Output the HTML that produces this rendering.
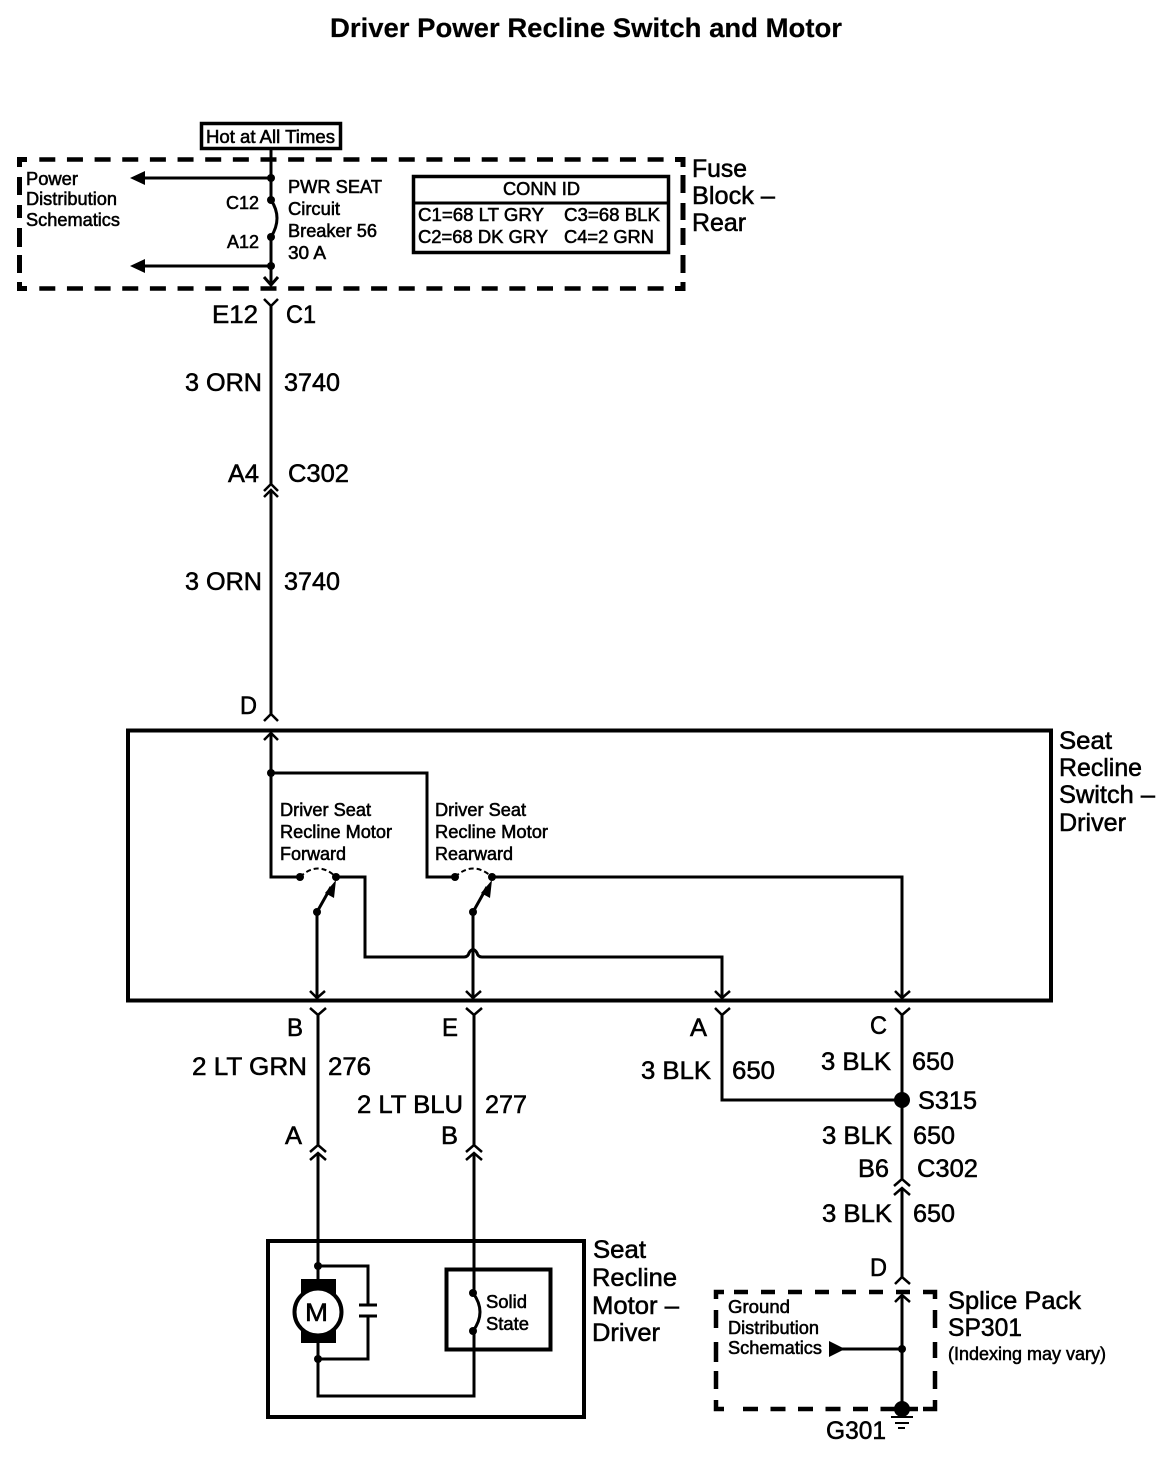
<!DOCTYPE html>
<html><head><meta charset="utf-8"><style>
html,body{margin:0;padding:0;background:#fff}
svg{display:block}
text{font-family:"Liberation Sans",sans-serif;fill:#000;stroke:#000;stroke-width:.55}
.l{font-size:25px}.s{font-size:18px}
.w{fill:none;stroke:#000;stroke-width:3}
.c{fill:none;stroke:#000;stroke-width:2.5}
</style></head><body>
<svg xmlns="http://www.w3.org/2000/svg" width="1172" height="1472" viewBox="0 0 1172 1472">
<rect width="1172" height="1472" fill="#fff"/>
<text x="330" y="37" style="font-size:27px;font-weight:bold;stroke-width:.2" textLength="512" lengthAdjust="spacingAndGlyphs">Driver Power Recline Switch and Motor</text>

<!-- top -->
<rect x="201.500" y="123.500" width="139" height="25" fill="none" stroke="#000" stroke-width="3.500"/>
<text x="206" y="143" class="s" textLength="129" lengthAdjust="spacingAndGlyphs">Hot at All Times</text>
<path d="M39.300 159.500H664M39.300 288.500H664" fill="none" stroke="#000" stroke-width="4.500" stroke-dasharray="16 11.650"/>
<path d="M27 159.500H19.500V167M675 159.500H683V167M19.500 282V288.500H27M683 282V288.500H675M19.500 177V195M19.500 205V218M19.500 228V247M19.500 255V273M683 175V193M683 203V220M683 228V245M683 255V273" fill="none" stroke="#000" stroke-width="5"/>
<path class="w" d="M271 149V200M271 237V285M264 277L271 285L278 277M271 178H143M271 266H143"/>
<path class="w" d="M271 200Q283 218 271 237"/>
<path d="M130 178L145 171V185ZM130 266L145 259V273Z"/>
<circle cx="271" cy="178" r="4"/><circle cx="271" cy="200" r="4"/><circle cx="271" cy="237" r="4"/><circle cx="271" cy="266" r="4"/>
<text x="26" y="185" class="s" textLength="52" lengthAdjust="spacingAndGlyphs">Power</text>
<text x="26" y="205" class="s" textLength="91" lengthAdjust="spacingAndGlyphs">Distribution</text>
<text x="26" y="226" class="s" textLength="94" lengthAdjust="spacingAndGlyphs">Schematics</text>
<text x="226" y="209" class="s" textLength="33" lengthAdjust="spacingAndGlyphs">C12</text>
<text x="227" y="248" class="s" textLength="32" lengthAdjust="spacingAndGlyphs">A12</text>
<text x="288" y="193" class="s" textLength="94" lengthAdjust="spacingAndGlyphs">PWR SEAT</text>
<text x="288" y="215" class="s" textLength="52" lengthAdjust="spacingAndGlyphs">Circuit</text>
<text x="288" y="237" class="s" textLength="89" lengthAdjust="spacingAndGlyphs">Breaker 56</text>
<text x="288" y="259" class="s" textLength="38" lengthAdjust="spacingAndGlyphs">30 A</text>
<rect x="413.500" y="176.500" width="255" height="76" fill="none" stroke="#000" stroke-width="3.500"/>
<path class="w" d="M413 203H668"/>
<text x="503" y="195" class="s" textLength="77" lengthAdjust="spacingAndGlyphs">CONN ID</text>
<text x="418" y="221" class="s" textLength="126" lengthAdjust="spacingAndGlyphs">C1=68 LT GRY</text>
<text x="564" y="221" class="s" textLength="96" lengthAdjust="spacingAndGlyphs">C3=68 BLK</text>
<text x="418" y="243" class="s" textLength="130" lengthAdjust="spacingAndGlyphs">C2=68 DK GRY</text>
<text x="564" y="243" class="s" textLength="90" lengthAdjust="spacingAndGlyphs">C4=2 GRN</text>
<text x="692" y="177" class="l" textLength="55" lengthAdjust="spacingAndGlyphs">Fuse</text>
<text x="692" y="204" class="l" textLength="83" lengthAdjust="spacingAndGlyphs">Block –</text>
<text x="692" y="231" class="l" textLength="54" lengthAdjust="spacingAndGlyphs">Rear</text>

<!-- main wire -->
<path class="c" d="M264 299L271 306L278 299"/>
<path class="w" d="M271 306V484M271 490V714M271 733V877H300"/>
<path class="c" d="M264 491L271 484L278 491M264 497L271 490L278 497M264 721L271 714L278 721M264 740L271 733L278 740"/>
<text x="212" y="323" class="l" textLength="46" lengthAdjust="spacingAndGlyphs">E12</text>
<text x="286" y="323" class="l" textLength="30" lengthAdjust="spacingAndGlyphs">C1</text>
<text x="185" y="391" class="l" textLength="77" lengthAdjust="spacingAndGlyphs">3 ORN</text>
<text x="284" y="391" class="l" textLength="56" lengthAdjust="spacingAndGlyphs">3740</text>
<text x="228" y="482" class="l" textLength="31" lengthAdjust="spacingAndGlyphs">A4</text>
<text x="288" y="482" class="l" textLength="61" lengthAdjust="spacingAndGlyphs">C302</text>
<text x="185" y="590" class="l" textLength="77" lengthAdjust="spacingAndGlyphs">3 ORN</text>
<text x="284" y="590" class="l" textLength="56" lengthAdjust="spacingAndGlyphs">3740</text>
<text x="240" y="714" class="l" textLength="17" lengthAdjust="spacingAndGlyphs">D</text>

<!-- switch box -->
<rect x="128" y="730.500" width="923" height="270" fill="none" stroke="#000" stroke-width="4"/>
<circle cx="271" cy="773" r="4"/>
<path class="w" d="M271 773H427V877H455M336 877H365V957H464Q468 957 469 953Q473 946 477 953Q478 957 482 957H722V997M492 877H902V997"/>
<path class="w" d="M317 912V997M473 912V997"/>
<path class="w" d="M317 912L331 887M473 912L487 887"/>
<path d="M336 880L325 893L334 898ZM492 880L481 893L490 898Z"/>
<circle cx="300" cy="877" r="4"/><circle cx="336" cy="877" r="4"/><circle cx="317" cy="912" r="4"/>
<circle cx="455" cy="877" r="4"/><circle cx="492" cy="877" r="4"/><circle cx="473" cy="912" r="4"/>
<path d="M300 877Q318 860 336 877M455 877Q473 860 492 877" fill="none" stroke="#000" stroke-width="2" stroke-dasharray="5 3"/>
<path class="c" d="M310 991L317 998L325 991M466 991L473 998L481 991M715 991L722 998L730 991M895 991L902 998L910 991"/>
<text x="280" y="816" class="s" textLength="91" lengthAdjust="spacingAndGlyphs">Driver Seat</text>
<text x="280" y="838" class="s" textLength="112" lengthAdjust="spacingAndGlyphs">Recline Motor</text>
<text x="280" y="860" class="s" textLength="66" lengthAdjust="spacingAndGlyphs">Forward</text>
<text x="435" y="816" class="s" textLength="91" lengthAdjust="spacingAndGlyphs">Driver Seat</text>
<text x="435" y="838" class="s" textLength="113" lengthAdjust="spacingAndGlyphs">Recline Motor</text>
<text x="435" y="860" class="s" textLength="78" lengthAdjust="spacingAndGlyphs">Rearward</text>
<text x="1059" y="749" class="l" textLength="53" lengthAdjust="spacingAndGlyphs">Seat</text>
<text x="1059" y="776" class="l" textLength="83" lengthAdjust="spacingAndGlyphs">Recline</text>
<text x="1059" y="803" class="l" textLength="96" lengthAdjust="spacingAndGlyphs">Switch –</text>
<text x="1059" y="831" class="l" textLength="67" lengthAdjust="spacingAndGlyphs">Driver</text>

<!-- lower connectors -->
<path class="c" d="M310 1008L318 1015L326 1008M466 1008L474 1015L482 1008M715 1008L722 1015L730 1008M895 1008L902 1015L910 1008"/>
<path class="w" d="M318 1015V1145M318 1153V1266M474 1015V1145M474 1153V1293M722 1015V1100H902M902 1015V1180M902 1188V1277M902 1295V1408"/>
<path class="c" d="M310 1152L318 1145L326 1152M310 1160L318 1153L326 1160M466 1152L474 1145L482 1152M466 1160L474 1153L482 1160M894 1186L902 1179L910 1186M894 1195L902 1188L910 1195M895 1284L902 1277L910 1284M895 1302L902 1295L910 1302"/>
<circle cx="902" cy="1100" r="8"/>
<text x="287" y="1036" class="l" textLength="16" lengthAdjust="spacingAndGlyphs">B</text>
<text x="442" y="1036" class="l" textLength="16" lengthAdjust="spacingAndGlyphs">E</text>
<text x="690" y="1036" class="l" textLength="17" lengthAdjust="spacingAndGlyphs">A</text>
<text x="870" y="1034" class="l" textLength="17" lengthAdjust="spacingAndGlyphs">C</text>
<text x="192" y="1075" class="l" textLength="115" lengthAdjust="spacingAndGlyphs">2 LT GRN</text>
<text x="328" y="1075" class="l" textLength="43" lengthAdjust="spacingAndGlyphs">276</text>
<text x="357" y="1113" class="l" textLength="106" lengthAdjust="spacingAndGlyphs">2 LT BLU</text>
<text x="485" y="1113" class="l" textLength="42" lengthAdjust="spacingAndGlyphs">277</text>
<text x="285" y="1144" class="l" textLength="17" lengthAdjust="spacingAndGlyphs">A</text>
<text x="441" y="1144" class="l" textLength="17" lengthAdjust="spacingAndGlyphs">B</text>
<text x="641" y="1079" class="l" textLength="70" lengthAdjust="spacingAndGlyphs">3 BLK</text>
<text x="732" y="1079" class="l" textLength="43" lengthAdjust="spacingAndGlyphs">650</text>
<text x="821" y="1070" class="l" textLength="70" lengthAdjust="spacingAndGlyphs">3 BLK</text>
<text x="912" y="1070" class="l" textLength="42" lengthAdjust="spacingAndGlyphs">650</text>
<text x="918" y="1109" class="l" textLength="59" lengthAdjust="spacingAndGlyphs">S315</text>
<text x="822" y="1144" class="l" textLength="70" lengthAdjust="spacingAndGlyphs">3 BLK</text>
<text x="913" y="1144" class="l" textLength="42" lengthAdjust="spacingAndGlyphs">650</text>
<text x="858" y="1177" class="l" textLength="31" lengthAdjust="spacingAndGlyphs">B6</text>
<text x="917" y="1177" class="l" textLength="61" lengthAdjust="spacingAndGlyphs">C302</text>
<text x="822" y="1222" class="l" textLength="70" lengthAdjust="spacingAndGlyphs">3 BLK</text>
<text x="913" y="1222" class="l" textLength="42" lengthAdjust="spacingAndGlyphs">650</text>
<text x="870" y="1276" class="l" textLength="17" lengthAdjust="spacingAndGlyphs">D</text>

<!-- motor box -->
<rect x="268" y="1241" width="316" height="176" fill="none" stroke="#000" stroke-width="4"/>
<rect x="446.500" y="1269.500" width="104" height="80" fill="none" stroke="#000" stroke-width="4"/>
<path class="w" d="M318 1266H368V1305M368 1316V1359H318M318 1266V1396H474V1331"/>
<path class="w" d="M359 1305H377M359 1316H377"/>
<path class="w" d="M473 1293Q487 1312 473 1331"/>
<rect x="301" y="1279" width="35" height="64"/>
<circle cx="318" cy="1312" r="23.500" fill="#fff" stroke="#000" stroke-width="4"/>
<circle cx="318" cy="1266" r="4"/><circle cx="318" cy="1359" r="4"/><circle cx="473" cy="1293" r="4"/><circle cx="473" cy="1331" r="4"/>
<text x="305" y="1321" style="font-size:25px" textLength="23" lengthAdjust="spacingAndGlyphs">M</text>
<text x="486" y="1308" class="s" textLength="41" lengthAdjust="spacingAndGlyphs">Solid</text>
<text x="486" y="1330" class="s" textLength="43" lengthAdjust="spacingAndGlyphs">State</text>
<text x="593" y="1258" class="l" textLength="53" lengthAdjust="spacingAndGlyphs">Seat</text>
<text x="592" y="1286" class="l" textLength="85" lengthAdjust="spacingAndGlyphs">Recline</text>
<text x="592" y="1314" class="l" textLength="87" lengthAdjust="spacingAndGlyphs">Motor –</text>
<text x="592" y="1341" class="l" textLength="68" lengthAdjust="spacingAndGlyphs">Driver</text>

<!-- splice pack -->
<path d="M734 1292H920" fill="none" stroke="#000" stroke-width="4.500" stroke-dasharray="14 13"/>
<path d="M743 1409H918" fill="none" stroke="#000" stroke-width="4.500" stroke-dasharray="15 12.500"/>
<path d="M724 1292H716V1299M923 1292H935V1299M716 1400V1409H724M935 1400V1409H923M716 1310V1328M716 1342V1362M716 1371V1389M935 1310V1328M935 1342V1358M935 1371V1389" fill="none" stroke="#000" stroke-width="4.500"/>
<path class="w" d="M842 1349H902"/>
<path d="M829 1341L845 1349L829 1357Z"/>
<circle cx="902" cy="1349" r="4"/>
<circle cx="902" cy="1409" r="8"/>
<path fill="none" stroke="#000" stroke-width="2" d="M891 1417H913M895 1423H909M898 1428H905"/>
<text x="728" y="1313" class="s" textLength="62" lengthAdjust="spacingAndGlyphs">Ground</text>
<text x="728" y="1334" class="s" textLength="91" lengthAdjust="spacingAndGlyphs">Distribution</text>
<text x="728" y="1354" class="s" textLength="94" lengthAdjust="spacingAndGlyphs">Schematics</text>
<text x="948" y="1309" class="l" textLength="133" lengthAdjust="spacingAndGlyphs">Splice Pack</text>
<text x="948" y="1336" class="l" textLength="74" lengthAdjust="spacingAndGlyphs">SP301</text>
<text x="948" y="1360" class="s" textLength="158" lengthAdjust="spacingAndGlyphs">(Indexing may vary)</text>
<text x="826" y="1439" class="l" textLength="60" lengthAdjust="spacingAndGlyphs">G301</text>
</svg>
</body></html>
